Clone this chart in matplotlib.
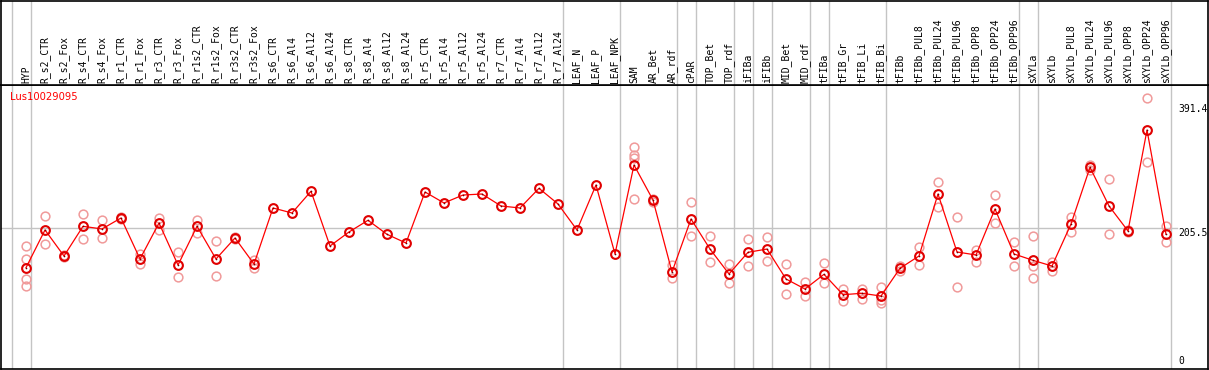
import matplotlib
matplotlib.use("Agg")
import matplotlib.pyplot as plt
from matplotlib.transforms import blended_transform_factory

gene = "Lus10029095"

samples = ["HYP", "R_s2_CTR", "R_s2_Fox", "R_s4_CTR", "R_s4_Fox", "R_r1_CTR", "R_r1_Fox",
           "R_r3_CTR", "R_r3_Fox", "R_r1s2_CTR", "R_r1s2_Fox", "R_r3s2_CTR", "R_r3s2_Fox",
           "R_s6_CTR", "R_s6_Al4", "R_s6_Al12", "R_s6_Al24", "R_s8_CTR", "R_s8_Al4",
           "R_s8_Al12", "R_s8_Al24", "R_r5_CTR", "R_r5_Al4", "R_r5_Al12", "R_r5_Al24",
           "R_r7_CTR", "R_r7_Al4", "R_r7_Al12", "R_r7_Al24", "LEAF_N", "LEAF_P", "LEAF_NPK",
           "SAM", "AR_Bet", "AR_rdf", "cPAR", "TOP_Bet", "TOP_rdf", "iFIBa", "iFIBb",
           "MID_Bet", "MID_rdf", "tFIBa", "tFIB_Gr", "tFIB_Li", "tFIB_Bi", "tFIBb",
           "tFIBb_PUL8", "tFIBb_PUL24", "tFIBb_PUL96", "tFIBb_OPP8", "tFIBb_OPP24",
           "tFIBb_OPP96", "sXYLa", "sXYLb", "sXYLb_PUL8", "sXYLb_PUL24", "sXYLb_PUL96",
           "sXYLb_OPP8", "sXYLb_OPP24", "sXYLb_OPP96"]

means = [146.6, 203.0, 164.1, 208.5, 204.5, 220.9, 159.6, 213.4, 150.6, 208.5, 159.6,
         191.0, 152.1, 235.9, 228.4, 260.9, 179.0, 200.0, 217.5, 196.5, 183.5, 259.8,
         243.4, 255.3, 256.8, 238.9, 235.9, 265.3, 241.9, 203.0, 270.3, 167.1, 300.2,
         247.8, 140.1, 219.4, 174.5, 137.2, 169.6, 174.5, 129.7, 114.7, 136.7, 106.2,
         108.3, 104.2, 145.7, 164.1, 256.8, 170.1, 165.6, 234.4, 167.1, 157.6, 149.1,
         211.9, 296.7, 238.9, 201.5, 352.5, 196.5]

replicates = [
    [179.0, 159.6, 129.6, 119.2], [223.5, 181.6], [165.0, 163.0], [226.9, 189.5],
    [217.9, 190.6], [222.0, 220.0], [166.6, 152.1], [220.9, 203.0], [169.6, 132.7],
    [217.9, 198.5], [186.5, 134.2], [193.0, 189.0], [158.1, 145.7],
    [], [], [], [], [], [], [], [], [], [], [], [], [], [], [], [], [], [], [],
    [327.6, 315.1, 310.2, 248.9], [245.3, 250.0], [150.6, 130.7], [244.8, 193.5],
    [193.5, 154.7], [151.7, 123.2], [189.5, 149.1], [192.5, 156.6], [151.7, 107.2],
    [124.7, 103.8], [153.2, 123.7], [114.3, 96.8], [114.3, 100.2],
    [117.7, 98.3, 93.8], [141.6, 149.8], [178.0, 150.2], [274.3, 237.8],
    [222.4, 117.3], [173.1, 155.6], [254.9, 213.0], [184.6, 148.7],
    [194.0, 149.6, 130.7], [155.6, 142.1], [222.4, 200.4], [300.2, 293.3],
    [279.2, 196.5], [200.0, 203.0], [399.9, 304.2], [208.9, 184.6]]

group_ends = [-1, 0, 28, 31, 34, 35, 37, 38, 39, 41, 42, 45, 52, 53, 60]
ytick_vals = [391.4, 205.5, 0]
ytick_labels = ["391.4", "205.5", "0"]

W, H = 1209, 370
fig = plt.figure(figsize=(W / 100, H / 100), dpi=100)

# pixel geometry
left_px, right_px, header_px, bottom_px = 1, 1208, 85, 369
ax = fig.add_axes([left_px / W, (H - bottom_px) / H, (right_px - left_px) / W,
                   (bottom_px - header_px) / H])
hx = fig.add_axes([left_px / W, (H - header_px) / H, (right_px - left_px) / W,
                   (header_px - 1) / H])

x0, dx = 26.0, 19.0
xlim = ((left_px - x0) / dx, (right_px - x0) / dx)
f = 1.4957
ylim = ((365.7 - bottom_px) * f, (365.7 - header_px) * f)

for a in (ax, hx):
    a.set_xlim(*xlim)
    a.set_xticks([])
    a.set_yticks([])
    for s in a.spines.values():
        s.set_color("black")
        s.set_linewidth(1.2)
ax.set_ylim(*ylim)
hx.set_ylim(0, header_px - 1)

xs = list(range(len(samples)))
sep_off = 4.6 / dx
for g in group_ends:
    for a in (ax, hx):
        a.axvline(g + sep_off, color="#c4c4c4", lw=1.0, zorder=0)

# horizontal reference line
ax.plot([xlim[0], (1177 - x0) / dx], [205.5, 205.5], color="#c4c4c4", lw=1.0, zorder=0)

# replicate points
rx, ry = [], []
for i, reps in enumerate(replicates):
    for v in reps:
        rx.append(i)
        ry.append(v)
ax.plot(rx, ry, ls="none", marker="o", ms=6.3, mfc="none", mec="#f09a9a", mew=1.1, zorder=2)

# mean line & markers
ax.plot(xs, means, color="#ff0000", lw=0.9, zorder=3)
ax.plot(xs, means, ls="none", marker="o", ms=6.3, mfc="none", mec="#e00000", mew=1.5, zorder=4)
ax.plot(xs, means, ls="none", marker="o", ms=1.2, mfc="#700000", mec="none", zorder=5)

# header labels
for i, name in enumerate(samples):
    hx.text(i, 2, name, rotation=90, ha="center", va="bottom",
            fontsize=7, family="DejaVu Sans Mono", color="black")

# gene name
fig.text(10 / W, 1 - 97 / H, gene, color="#ff0000", fontsize=7.2,
         family="DejaVu Sans", va="center", ha="left")

# right axis labels
tr = blended_transform_factory(fig.transFigure, ax.transData)
for v, lab in zip(ytick_vals, ytick_labels):
    ax.text(1178 / W, v, lab, transform=tr, ha="left",
            va="bottom" if v == 0 else "top",
            fontsize=7, family="DejaVu Sans Mono", color="black")

fig.savefig("out.png", dpi=100)
